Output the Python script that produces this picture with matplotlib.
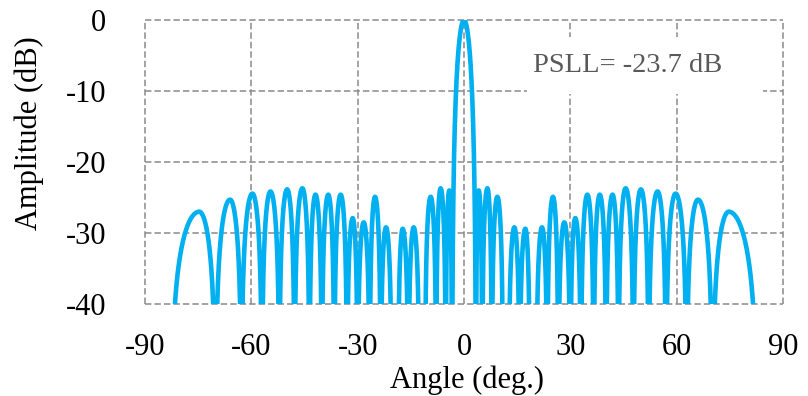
import numpy as np
import matplotlib
matplotlib.use("Agg")
import matplotlib.pyplot as plt
from matplotlib.patches import Rectangle

# Radiation pattern of the array, described lobe by lobe (symmetric about 0 deg).
# Main beam: first-null angle and shape exponent.
main_null = 3.4
main_shape = 1.7

# Sidelobe nulls on the positive side (deg), outward from the main beam.
side_nulls = [3.4, 5.15, 7.85, 11.0, 12.6, 15.7, 18.6, 20.4, 23.5, 26.6,
              30.0, 33.0, 36.6, 40.1, 43.6, 47.8, 52.1, 57.0, 62.8, 70.1, 82.7]
# Peak angle (deg) and peak level (dB) of each sidelobe between consecutive nulls.
side_peak_angles = [4.15, 6.6, 9.4, 11.8, 14.2, 17.3, 19.5, 22.0, 25.1, 28.3,
                    31.4, 34.8, 38.3, 41.9, 45.6, 49.9, 54.6, 59.7, 66.0, 74.7]
side_peak_levels = [-24.0, -23.7, -24.9, -45.0, -29.2, -29.4, -45.0, -29.2, -24.9, -28.5,
                    -27.9, -24.6, -24.6, -24.6, -23.7, -23.85, -24.15, -24.45, -25.3, -27.0]

x_ticks = [-90, -60, -30, 0, 30, 60, 90]
y_ticks = [0, -10, -20, -30, -40]

psll = max(side_peak_levels)


def lobe(a, b, c, peak_db, shape=1.0, n=400):
    """Single lobe between nulls a and b, maximum peak_db at angle c."""
    x = np.linspace(a, b, n)
    u = np.where(x <= c, 0.5 * (x - a) / (c - a), 0.5 + 0.5 * (x - c) / (b - c))
    amp = np.clip(np.sin(np.pi * u), 1e-6, None) ** shape
    return x, peak_db + 20 * np.log10(amp)


segments = [lobe(-main_null, main_null, 0.0, 0.0, main_shape)]
for a, b, c, p in zip(side_nulls[:-1], side_nulls[1:], side_peak_angles, side_peak_levels):
    xr, yr = lobe(a, b, c, p)
    segments.append((xr, yr))
    segments.append((-xr[::-1], yr[::-1]))

segments.sort(key=lambda s: s[0][0])
angle = np.concatenate([s[0] for s in segments])
level = np.concatenate([s[1] for s in segments])

plt.rcParams["font.family"] = ["Liberation Serif", "DejaVu Serif"]

fig = plt.figure(figsize=(8.08, 3.96), dpi=100)
ax = fig.add_axes([145 / 808, 1 - 304 / 396, 638 / 808, 284 / 396])

ax.set_xlim(-90, 90)
ax.set_ylim(-40, 0)
ax.set_xticks(x_ticks)
ax.set_yticks(y_ticks)
ax.set_xticklabels([str(t) for t in x_ticks])
ax.set_yticklabels([str(t) for t in y_ticks])
ax.tick_params(length=0, labelsize=22, colors="black")
ax.tick_params(axis="y", pad=28)
ax.tick_params(axis="x", pad=21)
for sp in ax.spines.values():
    sp.set_visible(False)

ax.grid(True, color="#8a8a8a", linewidth=1.1, linestyle=(0, (4.2, 2.0)))
for gl in ax.get_xgridlines() + ax.get_ygridlines():
    gl.set_clip_on(False)
ax.set_axisbelow(True)

# white label box over the grid
ax.add_patch(Rectangle((17.8, -10.4), 66.6, 8.0, facecolor="white",
                       edgecolor="none", zorder=1.5))
ax.text(19.5, -7.3, f"PSLL= {psll:.1f} dB", fontsize=20.5, color="#595959",
        ha="left", va="baseline", zorder=3)

ax.plot(angle, level, color="#00B0F0", linewidth=3.3, zorder=2,
        solid_joinstyle="round")

ax.set_xlabel("Angle (deg.)", fontsize=22)
ax.set_ylabel("Amplitude (dB)", fontsize=22)
ax.xaxis.set_label_coords(0.505, -0.215)
ax.yaxis.set_label_coords(-0.158, 0.60)

fig.savefig("out.png", dpi=100)
